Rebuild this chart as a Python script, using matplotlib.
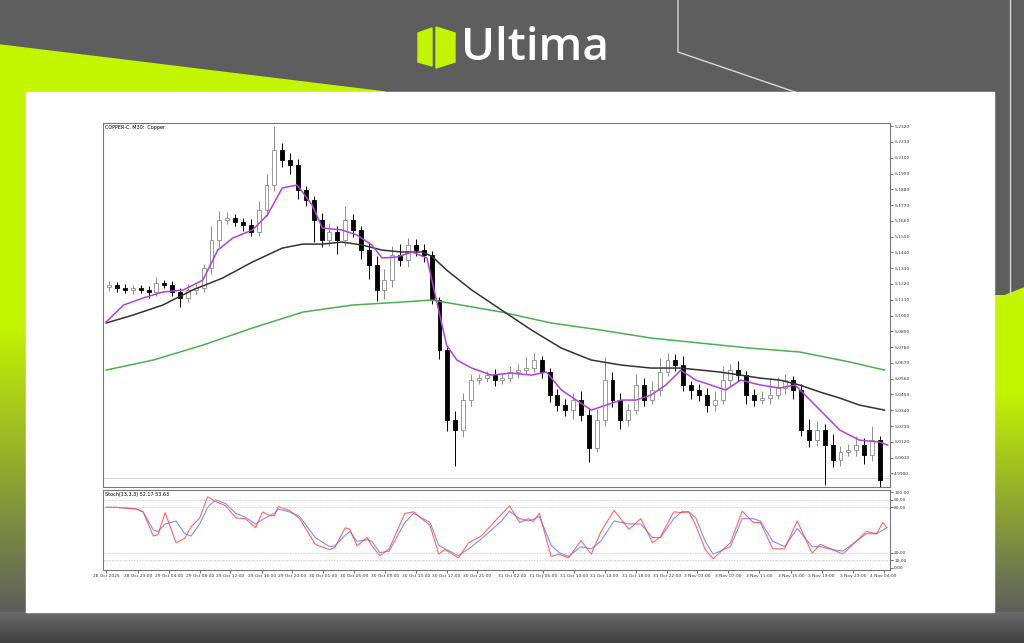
import numpy as np
import matplotlib
matplotlib.use("Agg")
from matplotlib import pyplot as plt
from matplotlib.patches import Polygon, Rectangle
from matplotlib.colors import to_rgb

# ---- price data (COPPER-C, M30) ----
closes = [5.1213, 5.1192, 5.1178, 5.1192, 5.1178, 5.1164, 5.1226, 5.1213, 5.1164, 5.1122,
          5.1178, 5.1192, 5.1331, 5.1526, 5.1666, 5.1680, 5.1652, 5.1631, 5.1582, 5.1735,
          5.1910, 5.2153, 5.2084, 5.2049, 5.1875, 5.1805, 5.1666, 5.1526, 5.1582, 5.1526,
          5.1666, 5.1596, 5.1456, 5.1352, 5.1178, 5.1247, 5.1422, 5.1387, 5.1491, 5.1456,
          5.1422, 5.1108, 5.0759, 5.0272, 5.0202, 5.0411, 5.0550, 5.0564, 5.0585, 5.0550,
          5.0564, 5.0606, 5.0620, 5.0634, 5.0690, 5.0606, 5.0446, 5.0376, 5.0341, 5.0411,
          5.0306, 5.0076, 5.0272, 5.0550, 5.0411, 5.0272, 5.0341, 5.0516, 5.0411, 5.0481,
          5.0606, 5.0690, 5.0655, 5.0516, 5.0481, 5.0446, 5.0376, 5.0411, 5.0550, 5.0620,
          5.0585, 5.0446, 5.0411, 5.0425, 5.0446, 5.0495, 5.0550, 5.0481, 5.0202, 5.0132,
          5.0202, 5.0097, 4.9993, 5.0049, 5.0062, 5.0097, 5.0028, 5.0132, 4.9853]
first_open = 5.1200
# wick lengths in thousandths above max(open, close) / below min(open, close)
wick_up = [3, 2, 3, 2, 2, 3, 4, 2, 3, 3, 4, 3,
           3, 10, 6, 4, 3, 3, 4, 6, 8, 17, 5, 5,
           4, 3, 3, 5, 6, 4, 10, 4, 3, 6, 6, 8,
           6, 8, 5, 4, 4, 3, 2, 2, 6, 5, 4, 3,
           3, 4, 3, 4, 4, 8, 5, 3, 3, 4, 4, 5,
           6, 4, 8, 16, 6, 5, 4, 8, 5, 6, 10, 5,
           4, 6, 3, 4, 5, 6, 10, 4, 6, 3, 4, 5,
           12, 8, 4, 3, 4, 8, 6, 4, 8, 4, 4, 6,
           5, 10, 3]
wick_dn = [3, 3, 2, 3, 2, 4, 3, 2, 3, 6, 3, 3,
           3, 4, 5, 3, 3, 4, 3, 3, 4, 4, 5, 6,
           6, 4, 15, 5, 4, 10, 4, 5, 6, 10, 8, 6,
           5, 4, 5, 4, 5, 3, 6, 8, 25, 5, 4, 3,
           3, 4, 3, 3, 4, 3, 3, 4, 5, 4, 4, 6,
           4, 10, 3, 4, 5, 6, 4, 3, 4, 3, 4, 3,
           4, 4, 6, 4, 5, 4, 3, 4, 4, 6, 4, 3,
           4, 3, 4, 6, 4, 5, 4, 28, 5, 4, 3, 4,
           6, 4, 6]

# moving averages (bar position, value)
ma_fast_t = [-0.4, 1.8, 4.3, 6.8, 9.4, 11.9, 13.8, 15.7, 18.2, 20.1, 22.0, 23.9, 25.8, 27.1,
             29.6, 31.5, 33.4, 34.7, 36.6, 38.5, 40.4, 41.6, 42.9, 44.2, 46.1, 48.6, 51.1,
             53.7, 55.6, 57.5, 59.4, 61.3, 63.2, 65.1, 67.0, 68.9, 70.8, 72.7, 74.6, 76.5,
             78.4, 80.3, 82.8, 85.3, 87.2, 88.5, 90.4, 92.9, 95.4, 98.0, 99.0]
ma_fast = [5.0955, 5.1073, 5.1122, 5.1164, 5.1178, 5.1247, 5.1456, 5.1540, 5.1596, 5.1700,
           5.1889, 5.1910, 5.1770, 5.1610, 5.1596, 5.1561, 5.1491, 5.1401, 5.1408, 5.1443,
           5.1401, 5.1108, 5.0794, 5.0690, 5.0634, 5.0585, 5.0599, 5.0585, 5.0606, 5.0481,
           5.0411, 5.0341, 5.0376, 5.0411, 5.0411, 5.0446, 5.0516, 5.0620, 5.0550, 5.0516,
           5.0481, 5.0550, 5.0516, 5.0495, 5.0516, 5.0446, 5.0341, 5.0202, 5.0132, 5.0118,
           5.0097]
ma_mid_t = [-0.4, 3.0, 6.8, 10.6, 14.4, 18.2, 22.0, 24.6, 27.1, 29.6, 32.2, 34.7, 37.2, 39.7,
            41.0, 42.9, 46.1, 49.9, 53.7, 57.5, 61.3, 65.1, 68.9, 72.7, 75.2, 77.7, 80.3,
            82.8, 85.3, 87.8, 90.4, 92.9, 95.4, 98.6]
ma_mid = [5.0948, 5.1003, 5.1073, 5.1178, 5.1261, 5.1373, 5.1470, 5.1498, 5.1498, 5.1512,
          5.1491, 5.1456, 5.1443, 5.1443, 5.1415, 5.1317, 5.1178, 5.1038, 5.0899, 5.0773,
          5.0690, 5.0655, 5.0634, 5.0634, 5.0620, 5.0606, 5.0585, 5.0564, 5.0550, 5.0516,
          5.0467, 5.0425, 5.0376, 5.0341]
ma_slow_t = [-0.4, 5.6, 11.9, 18.2, 24.6, 30.9, 37.2, 41.0, 44.8, 49.9, 56.2, 62.5, 68.9,
             75.2, 81.5, 87.8, 94.2, 98.6]
ma_slow = [5.0620, 5.0690, 5.0794, 5.0913, 5.1024, 5.1073, 5.1094, 5.1108, 5.1073, 5.1024,
           5.0948, 5.0899, 5.0843, 5.0808, 5.0773, 5.0746, 5.0676, 5.0620]

# stochastic (13,3,3)
stoch_t = [-0.4, 0.9, 3.4, 4.3, 5.6, 6.2, 7.1, 8.5, 9.6, 10.4,
           11.5, 12.5, 13.5, 14.8, 16.1, 17.3, 18.6, 19.5, 20.4, 21.0,
           21.5, 22.9, 24.2, 26.2, 28.0, 28.7, 30.0, 30.6, 31.5, 32.8,
           33.4, 34.4, 35.6, 37.6, 38.7, 40.8, 41.9, 42.7, 44.4, 45.7,
           47.3, 49.9, 50.9, 52.2, 53.3, 53.9, 54.7, 56.2, 57.2, 58.4,
           60.0, 61.3, 62.5, 64.2, 66.1, 67.6, 69.1, 70.1, 71.8, 72.9,
           73.7, 74.6, 75.8, 76.8, 79.0, 80.5, 81.9, 82.8, 84.4, 85.9,
           87.5, 89.4, 90.4, 92.0, 93.3, 96.3, 97.6, 98.4, 98.9]
stoch_main = [80, 80, 78, 74, 42, 44, 73, 33, 39, 54,
              66, 94, 88, 82, 66, 65, 53, 74, 69, 69,
              81, 76, 65, 31, 24, 27, 53, 51, 29, 40,
              29, 16, 25, 72, 74, 56, 18, 24, 13, 33,
              42, 71, 82, 60, 65, 61, 72, 15, 18, 13,
              36, 18, 47, 76, 51, 65, 33, 41, 74, 73,
              74, 56, 24, 12, 33, 75, 60, 60, 25, 25,
              62, 19, 31, 24, 18, 48, 45, 60, 53]
stoch_signal = [80, 80, 78, 74, 50, 48, 58, 62, 45, 42,
                58, 80, 90, 85, 72, 67, 58, 64, 69, 72,
                78, 74, 68, 40, 28, 29, 43, 48, 35, 37,
                35, 20, 22, 60, 72, 60, 30, 25, 16, 25,
                38, 62, 75, 65, 62, 64, 68, 30, 20, 15,
                28, 25, 35, 62, 58, 58, 40, 40, 65, 75,
                74, 66, 35, 18, 28, 65, 65, 62, 35, 28,
                52, 28, 28, 24, 22, 45, 45, 50, 53]

time_ticks = [-0.4, 3.7, 7.6, 11.5, 15.4, 19.4, 23.3, 27.2, 31.1, 35.1, 39.0, 42.9, 46.8,
              51.3, 55.2, 59.1, 63.0, 67.0, 70.9, 74.8, 78.7, 82.7, 86.7, 90.6, 94.6, 98.5]
time_labels = ["28 Oct 2025", "28 Oct 23:00", "29 Oct 04:00", "29 Oct 08:00", "29 Oct 12:00",
               "29 Oct 16:00", "29 Oct 20:00", "30 Oct 01:00", "30 Oct 05:00", "30 Oct 09:00",
               "30 Oct 13:00", "30 Oct 17:00", "30 Oct 21:00", "31 Oct 02:00", "31 Oct 06:00",
               "31 Oct 10:00", "31 Oct 14:00", "31 Oct 18:00", "31 Oct 22:00", "3 Nov 03:00",
               "3 Nov 07:00", "3 Nov 11:00", "3 Nov 15:00", "3 Nov 19:00", "3 Nov 23:00",
               "4 Nov 04:00"]
price_ticks = [4.9900, 5.0010, 5.0120, 5.0230, 5.0340, 5.0450, 5.0560, 5.0670, 5.0780,
               5.0890, 5.1000, 5.1110, 5.1220, 5.1330, 5.1440, 5.1550, 5.1660, 5.1770,
               5.1880, 5.1990, 5.2100, 5.2210, 5.2320]

LIME = "#c4f500"
GRAY = "#5e5e5e"
W, H = 1024, 643

fig = plt.figure(figsize=(10.24, 6.43), dpi=100)

# ---- branded background ----
bg = fig.add_axes([0, 0, 1, 1])
bg.set_xlim(0, W)
bg.set_ylim(H, 0)
bg.axis("off")
bg.add_patch(Rectangle((0, 0), W, H, color=GRAY))
bg.add_patch(Polygon([(0, 45), (385, 92), (0, 92)], color=LIME))
lime, gray = np.array(to_rgb(LIME)), np.array(to_rgb(GRAY))
fade = np.clip((np.linspace(0, 1, 200) - 0.45) / 0.55, 0, 1)[:, None]
strip = (lime * (1 - fade) + gray * fade)[:, None, :]
bg.imshow(strip, extent=(0, 26, 612, 90), aspect="auto", zorder=1)
fade_r = np.clip((np.linspace(0, 1, 200) - 0.3) / 0.7, 0, 1)[:, None]
strip_r = (lime * (1 - fade_r) + gray * fade_r)[:, None, :]
bg.imshow(strip_r, extent=(994, W, 612, 295), aspect="auto", zorder=1)
bottom = np.linspace(0.42, 0.25, 30)[:, None, None] * np.ones((1, 1, 3))
bg.imshow(bottom, extent=(0, W, H, 612), aspect="auto", zorder=1)
bg.add_patch(Polygon([(994, 300), (W, 288), (W, 296), (994, 304)], color=LIME, zorder=2))
bg.plot([678, 678, 795], [0, 52, 92], color="#d8d8d8", lw=1, zorder=2)
bg.plot([1010, 1010], [0, 295], color="#d8d8d8", lw=1, zorder=2)
bg.add_patch(Rectangle((26, 92), 968, 520, color="white", zorder=3))
bg.add_patch(Polygon([(418, 33), (432, 28), (432, 66), (418, 62)], color=LIME, zorder=3))
bg.add_patch(Polygon([(436, 27), (455, 33), (455, 62), (436, 68)], color=LIME, zorder=3))
bg.text(461, 48, "Ultima", color="white", fontsize=33, fontfamily="Open Sans",
        fontweight="semibold", va="center", ha="left", zorder=3)
bg.set_xlim(0, W)
bg.set_ylim(H, 0)

# ---- main price panel ----
ax = fig.add_axes([103 / W, 1 - 487 / H, 787 / W, 364 / H])
ax2 = fig.add_axes([103 / W, 1 - 570 / H, 787 / W, 80 / H])

opens = [first_open] + closes[:-1]
for i, (o, c) in enumerate(zip(opens, closes)):
    hi = max(o, c) + wick_up[i] / 1000
    lo = min(o, c) - wick_dn[i] / 1000
    up = c >= o
    edge = "#8c8c8c" if up else "black"
    ax.vlines(i, lo, hi, color=edge, lw=0.7, zorder=2)
    ax.bar(i, max(abs(c - o), 0.0004), bottom=min(o, c), width=0.5,
           color="white" if up else "black", edgecolor=edge, lw=0.6, zorder=3)

ax.plot(ma_slow_t, ma_slow, color="#4caf50", lw=1.1, zorder=4)
ax.plot(ma_mid_t, ma_mid, color="#333333", lw=1.1, zorder=4)
ax.plot(ma_fast_t, ma_fast, color="#b040e0", lw=1.1, zorder=4)
ax.axhline(4.9870, color="#cccccc", lw=0.6, zorder=1)

ax.set_xlim(-0.8, 99.3)
ax.set_ylim(4.9805, 5.2342)
ax.yaxis.tick_right()
ax.set_yticks(price_ticks)
ax.set_yticklabels([f"{p:.4f}" for p in price_ticks])
ax.set_xticks([])
ax.text(0.003, 0.995, "COPPER-C, M30:  Copper", transform=ax.transAxes, fontsize=3.5,
        va="top", ha="left")

ax2.plot(stoch_t, stoch_signal, color="#6070ff", lw=0.8, alpha=0.8)
ax2.plot(stoch_t, stoch_main, color="#ff4040", lw=0.8, alpha=0.8)
for lvl in [90, 80, 20, 10]:
    ax2.axhline(lvl, color="#bbbbbb", lw=0.5, ls=(0, (2, 2)))
ax2.set_xlim(-0.8, 99.3)
ax2.set_ylim(-3, 103)
ax2.yaxis.tick_right()
ax2.set_yticks([0, 10, 20, 80, 90, 100])
ax2.set_yticklabels(["0.00", "10.00", "20.00", "80.00", "90.00", "100.00"])
ax2.set_xticks(time_ticks)
ax2.set_xticklabels(time_labels)
ax2.text(0.003, 0.97, "Stoch(13,3,3) 52.17 53.63", transform=ax2.transAxes, fontsize=3.5,
         va="top", ha="left")

for a in (ax, ax2):
    a.tick_params(labelsize=3.2, length=2, width=0.5, pad=1, colors="#333333")
    for s in a.spines.values():
        s.set_linewidth(0.8)
        s.set_color("#777777")

plt.savefig("out.png", dpi=100)
